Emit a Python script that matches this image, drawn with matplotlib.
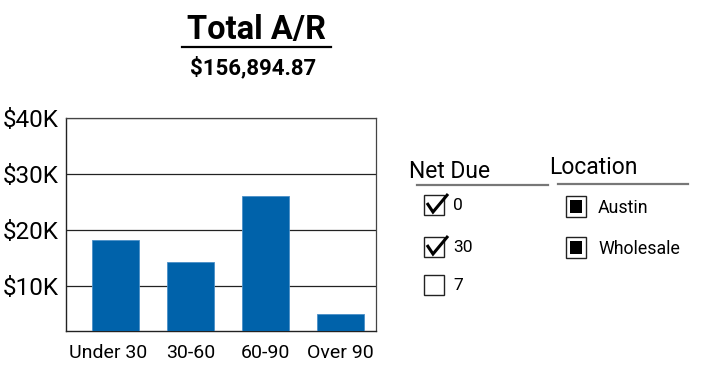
import matplotlib.pyplot as plt
import matplotlib.transforms as mtransforms
from matplotlib.patches import Rectangle

plt.rcParams['font.family'] = ['Roboto', 'DejaVu Sans']

# data
categories = ["Under 30", "30-60", "60-90", "Over 90"]
values = [18200, 14300, 26000, 5050]
y_ticks = [10000, 20000, 30000, 40000]
y_tick_labels = ["$10K", "$20K", "$30K", "$40K"]
total_title = "Total A/R"
total_value = "$156,894.87"
net_due_items = ["0", "30", "7"]
net_due_checked = [True, True, False]
location_items = ["Austin", "Wholesale"]

W, H = 703, 376
fig = plt.figure(figsize=(W / 100, H / 100), dpi=100)

# main bar axes, placed in pixels
ax = fig.add_axes([66 / W, 1 - 331 / H, 310 / W, 213 / H])
x = range(len(categories))
ax.bar(x, values, width=0.63, color="#0062aa", edgecolor="#4a8fc8", linewidth=0.6, zorder=3)
ax.set_ylim(2000, 40000)
ax.set_xlim(-0.657, 3.476)
ax.set_yticks(y_ticks)
ax.set_yticklabels(y_tick_labels, fontsize=17.5)
ax.set_xticks(list(x))
ax.set_xticklabels(categories, fontsize=14)
ax.tick_params(axis="y", length=0, pad=5)
ax.tick_params(axis="x", length=0, pad=9)
# first label sits a little left of its bar in the original
lbl = ax.get_xticklabels()[0]
lbl.set_transform(lbl.get_transform() + mtransforms.ScaledTranslation(-7 / 100, 0, fig.dpi_scale_trans))
ax.grid(axis="y", color="#222222", linewidth=0.9, zorder=0)
for side in ["left", "bottom"]:
    ax.spines[side].set_color("#222222")
    ax.spines[side].set_linewidth(1.0)
for side in ["top", "right"]:
    ax.spines[side].set_color("#444444")
    ax.spines[side].set_linewidth(0.9)

# overlay in pixel coordinates for titles and filter widgets
ov = fig.add_axes([0, 0, 1, 1], zorder=5)
ov.set_xlim(0, W)
ov.set_ylim(H, 0)
ov.axis("off")
ov.patch.set_alpha(0)

ov.text(256, 30, total_title, fontsize=23.5, fontweight="bold", ha="center", va="center")
ov.plot([182, 331], [46.5, 46.5], color="black", linewidth=1.6)
ov.text(253, 68, total_value, fontsize=16, fontweight="bold", ha="center", va="center")

# Net Due filter
ov.text(409, 171, "Net Due", fontsize=16.5, ha="left", va="center")
ov.plot([417, 548], [185, 185], color="#777777", linewidth=1.6)
box_tops = [195, 237, 275]
for label, checked, top in zip(net_due_items, net_due_checked, box_tops):
    ov.add_patch(Rectangle((424, top), 20, 20, fill=False, edgecolor="#222222", linewidth=1.0))
    if checked:
        ov.plot([427, 433, 448], [top + 8, top + 17, top - 1], color="black",
                linewidth=2.2, solid_capstyle="butt", solid_joinstyle="miter")
    ov.text(453, top + 11, label, fontsize=12.5, ha="left", va="center")

# Location filter
ov.text(549, 168, "Location", fontsize=16.5, ha="left", va="center")
ov.plot([558, 688], [184, 184], color="#777777", linewidth=1.6)
loc_tops = [196, 237]
for label, top in zip(location_items, loc_tops):
    ov.add_patch(Rectangle((566, top), 20, 21, fill=False, edgecolor="#222222", linewidth=1.0))
    ov.add_patch(Rectangle((570, top + 4), 12, 13, facecolor="black", edgecolor="none"))
    ov.text(598, top + 12, label, fontsize=12.8, ha="left", va="center")

fig.savefig("out.png", dpi=100)
